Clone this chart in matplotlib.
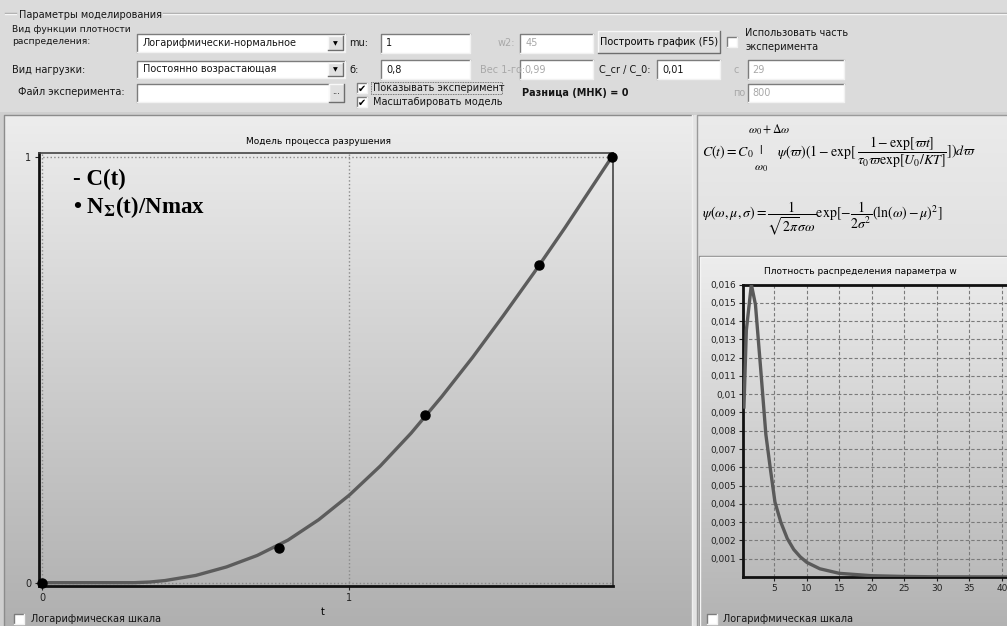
import numpy as np
import matplotlib.pyplot as plt
from matplotlib.patches import Rectangle
import matplotlib.ticker as ticker

plt.rcParams['font.family'] = ['DejaVu Sans']
plt.rcParams['mathtext.fontset'] = 'stix'

W, H = 1007, 626

# model curve C(t)
t_model = [0, 0.30, 0.35, 0.40, 0.50, 0.60, 0.70, 0.80, 0.90, 1.00, 1.10, 1.20,
           1.30, 1.40, 1.50, 1.60, 1.70, 1.80, 1.853]
c_model = [0, 0, 0.0015, 0.005, 0.017, 0.037, 0.064, 0.100, 0.148, 0.206, 0.274, 0.351,
           0.437, 0.529, 0.627, 0.728, 0.833, 0.942, 1.0]

# experiment points N_sum(t)/Nmax
t_exp = [0, 0.772, 1.244, 1.616, 1.853]
n_exp = [0, 0.082, 0.394, 0.746, 1.0]

# density of parameter w
w_vals = [0.33, 0.7, 1.47, 2.1, 2.9, 3.7, 4.4, 5.1, 6.0, 7.0, 8.0, 9.0, 10,
          12, 15, 20, 25, 30, 45]
psi_vals = [0.0093, 0.0135, 0.0160, 0.0149, 0.0114, 0.0078, 0.0059, 0.0041,
            0.0030, 0.0021, 0.0015, 0.0011, 0.0008, 0.00045, 0.0002, 0.00007,
            0.00003, 0.00001, 0.0]

w_ticks = [5, 10, 15, 20, 25, 30, 35, 40]
psi_ticks = list(np.arange(1, 17) / 1000)

fig = plt.figure(figsize=(W / 100, H / 100), dpi=100)
fig.patch.set_facecolor('#d8d8d8')

bg = fig.add_axes([0, 0, 1, 1])
bg.axis('off')


def gradient(x0, y0, x1, y1, top, bottom):
    g = np.linspace(top, bottom, 256)
    img = np.dstack([g, g, g]).reshape(256, 1, 3)
    bg.imshow(img, extent=(x0, x1, y1, y0), origin='upper', aspect='auto',
              interpolation='bilinear', zorder=1)


def sunken(x, y, w, h, fc='white'):
    bg.add_patch(Rectangle((x, y), w, h, fc=fc, ec='none', zorder=2))
    bg.plot([x, x, x + w], [y + h, y, y], color='#7c7c7c', lw=1, zorder=3)
    bg.plot([x, x + w, x + w], [y + h, y + h, y], color='#f2f2f2', lw=1, zorder=3)


def raised(x, y, w, h, fc='#e0e0e0'):
    bg.add_patch(Rectangle((x, y), w, h, fc=fc, ec='none', zorder=2))
    bg.plot([x, x, x + w], [y + h, y, y], color='#f8f8f8', lw=1, zorder=3)
    bg.plot([x, x + w, x + w], [y + h, y + h, y], color='#6e6e6e', lw=1, zorder=3)


def label(x, y, s, color='#151515', size=7, **kw):
    bg.text(x, y, s, fontsize=size, color=color, va='center', ha='left', zorder=4, **kw)


def checkbox(x, y, checked):
    sunken(x, y, 10, 10)
    if checked:
        bg.text(x + 5, y + 5.5, '✔', fontsize=7, ha='center', va='center', zorder=4)


def combo(x, y, w, h, s):
    sunken(x, y, w, h)
    label(x + 6, y + h / 2, s)
    raised(x + w - 17, y + 2, 15, h - 4)
    bg.text(x + w - 9.5, y + h / 2 + 0.5, '▼', fontsize=4.5, ha='center', va='center', zorder=4)


# ---- top panel: parameters
bg.add_patch(Rectangle((0, 0), W, 112, fc='#dbdbdb', ec='none', zorder=0.5))
bg.plot([5, 16], [13, 13], color='#a3a3a3', lw=1, zorder=3)
bg.plot([163, W], [13, 13], color='#a3a3a3', lw=1, zorder=3)
bg.plot([5, 16], [14, 14], color='#f6f6f6', lw=1, zorder=3)
bg.plot([163, W], [14, 14], color='#f6f6f6', lw=1, zorder=3)
label(19, 15, 'Параметры моделирования')

label(12, 30, 'Вид функции плотности', size=6.6)
label(12, 41, 'распределения:', size=6.6)
combo(137, 34, 208, 18, 'Логарифмически-нормальное')
label(349, 43, 'mu:')
sunken(381, 34, 89, 19)
label(386, 43, '1')
label(498, 43, 'w2:', color='#a8a8a8')
sunken(520, 34, 73, 19)
label(526, 43, '45', color='#a8a8a8')
raised(598, 31, 122, 22)
bg.text(659, 42, 'Построить график (F5)', fontsize=7, ha='center', va='center', zorder=4)
checkbox(727, 37, False)
label(745, 33, 'Использовать часть')
label(745, 47, 'эксперимента')

label(12, 70, 'Вид нагрузки:')
combo(137, 61, 208, 17, 'Постоянно возрастающая')
label(349, 70, 'б:')
sunken(381, 60, 89, 19)
label(386, 70, '0,8')
label(480, 70, 'Вес 1-го:', color='#a8a8a8')
sunken(520, 60, 73, 19)
label(524, 70, '0,99', color='#a8a8a8')
label(599, 70, 'C_cr / C_0:')
sunken(657, 60, 63, 19)
label(662, 70, '0,01')
label(734, 70, 'с', color='#a8a8a8')
sunken(748, 60, 96, 19)
label(752, 70, '29', color='#a8a8a8')

label(18, 92, 'Файл эксперимента:')
sunken(137, 84, 192, 18)
raised(329, 84, 15, 18)
bg.text(336.5, 91, '...', fontsize=6, ha='center', va='center', zorder=4)
checkbox(357, 83, True)
label(373, 88, 'Показывать эксперимент')
bg.add_patch(Rectangle((371, 82), 131, 12, fc='none', ec='#555555', lw=0.6,
                       ls=(0, (1, 1)), zorder=4))
checkbox(357, 97, True)
label(373, 102, 'Масштабировать модель')
label(522, 93, 'Разница (МНК) = 0', weight='bold')
label(733, 93, 'по', color='#a8a8a8')
sunken(748, 84, 96, 18)
label(752, 93, '800', color='#a8a8a8')

# ---- lower panels
bg.add_patch(Rectangle((0, 112), W, H - 112, fc='#cfcfcf', ec='none', zorder=0.5))
gradient(4, 115, 692, H, 0.93, 0.69)
bg.plot([4, 4, 692], [H, 115, 115], color='#8c8c8c', lw=1, zorder=3)
bg.plot([692, 692], [115, H], color='#f0f0f0', lw=1, zorder=3)
bg.add_patch(Rectangle((693, 115), 4, H - 115, fc='#e4e4e4', ec='none', zorder=1))
gradient(697, 115, W, H, 0.92, 0.78)
bg.plot([697, 697, W], [H, 115, 115], color='#9a9a9a', lw=1, zorder=3)
gradient(699, 256, W, H, 0.93, 0.70)
bg.plot([699, 699, W], [H, 256, 256], color='#8a8a8a', lw=1, zorder=3)
bg.plot([700, 700, W], [H, 257, 257], color='#f5f5f5', lw=1, zorder=3)

# formulas
bg.text(702, 152, r'$C(t)=C_0$', fontsize=10, va='center', ha='left', zorder=4)
bg.text(748, 130, r'$\omega_0+\Delta\omega$', fontsize=8.5, va='center', ha='left', zorder=4)
bg.text(761, 151, r'$|$', fontsize=9.5, va='center', ha='center', zorder=4)
bg.text(761, 168, r'$\omega_0$', fontsize=8.5, va='center', ha='center', zorder=4)
f1 = bg.text(777, 152, r'$\psi(\varpi)(1-\exp[$', fontsize=10, va='center', ha='left', zorder=4)
bg.annotate(r'$\dfrac{1-\exp[\varpi t]}{\tau_0\varpi\exp[U_0/KT]}])d\varpi$',
            xy=(1, 0.5), xycoords=f1, fontsize=10, va='center', ha='left', zorder=4)
bg.text(702, 218, r'$\psi(\omega,\mu,\sigma)=\dfrac{1}{\sqrt{2\pi}\sigma\omega}\exp[-\dfrac{1}{2\sigma^2}(\ln(\omega)-\mu)^2]$',
        fontsize=10, va='center', ha='left', zorder=4)

# titles, labels, checkboxes
bg.text(319, 141, 'Модель процесса разрушения', fontsize=6.5, ha='center', va='center', zorder=4)
bg.text(860, 272, 'Плотность распределения параметра w', fontsize=6.5, ha='center', va='center', zorder=4)
bg.text(323, 612, 't', fontsize=7, ha='center', va='center', zorder=4)
checkbox(14, 614, False)
label(31, 619, 'Логарифмическая шкала')
checkbox(707, 614, False)
label(723, 619, 'Логарифмическая шкала')

# legend text inside left chart
bg.text(73, 179, '- C(t)', fontsize=16.5, weight='bold', family='Liberation Serif',
        va='center', ha='left', zorder=5)
bg.text(73, 207, r'• N$_{\mathbf{\Sigma}}$(t)/Nmax', fontsize=16.5, weight='bold',
        family='Liberation Serif', va='center', ha='left', zorder=5)

bg.set_xlim(0, W)
bg.set_ylim(H, 0)


def px_axes(l, t, r, b):
    return fig.add_axes([l / W, 1 - b / H, (r - l) / W, (b - t) / H])


# ---- left chart: model of destruction
ax = px_axes(38.5, 153, 613, 586)
ax.set_facecolor('none')
ax.plot(t_model, c_model, color='#5c5c5c', lw=2.4, zorder=3)
ax.plot(t_exp, n_exp, 'o', color='black', ms=6.5, zorder=4, clip_on=False)
ax.set_xlim(-0.0114, 1.857)
ax.set_ylim(-0.0078, 1.0094)
ax.set_xticks([0, 1])
ax.set_yticks([0, 1])
ax.grid(True, ls=':', color='#8a8a8a', lw=1)
ax.tick_params(labelsize=7, length=3, width=0.8, colors='#222222', pad=2)
for s in ['left', 'bottom']:
    ax.spines[s].set_linewidth(2)
    ax.spines[s].set_color('#111111')
for s in ['top', 'right']:
    ax.spines[s].set_linewidth(1.2)
    ax.spines[s].set_color('#444444')

# ---- right chart: density of w
ax2 = px_axes(743.3, 284.5, 1034.3, 577)
ax2.set_facecolor('none')
ax2.plot(w_vals, psi_vals, color='#5a5a5a', lw=2.4, zorder=3)
ax2.set_xlim(0.23, 45)
ax2.set_ylim(0, 0.016)
ax2.set_xticks(w_ticks)
ax2.set_yticks(psi_ticks)
ax2.yaxis.set_major_formatter(ticker.FuncFormatter(lambda v, p: ('%g' % v).replace('.', ',')))
ax2.grid(True, ls=(0, (3, 2)), color='#7a7a7a', lw=0.8)
ax2.tick_params(labelsize=6.5, length=3, width=0.8, colors='#222222', pad=2)
for s in ax2.spines.values():
    s.set_linewidth(2)
    s.set_color('#111111')

fig.savefig('out.png', dpi=100)
